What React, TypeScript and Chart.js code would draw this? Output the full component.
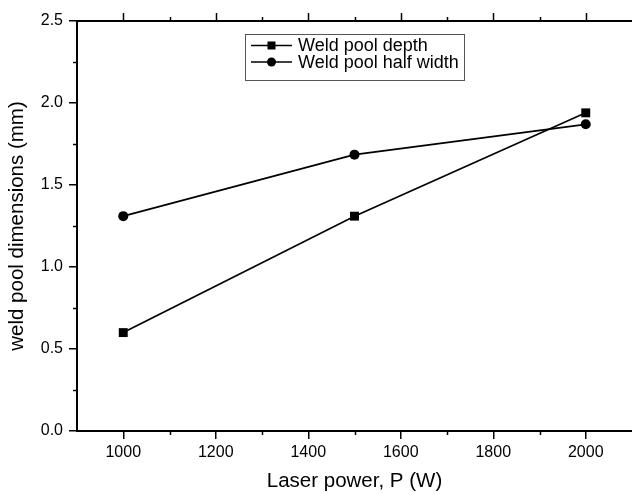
import React, { useEffect, useRef } from "react";
import { Chart, registerables } from "chart.js";

Chart.register(...registerables);

const laserPower = [1000, 1500, 2000];
const poolDepth = [0.6, 1.31, 1.94];
const poolHalfWidth = [1.31, 1.685, 1.87];
const xTickValues = [1000, 1200, 1400, 1600, 1800, 2000];
const xMinorValues = [900, 1100, 1300, 1500, 1700, 1900, 2100];
const yTickValues = [0, 0.5, 1.0, 1.5, 2.0, 2.5];
const yMinorValues = [0.25, 0.75, 1.25, 1.75, 2.25];
const seriesNames = ["Weld pool depth", "Weld pool half width"];

const FONT = "'Liberation Sans', Arial, sans-serif";

const framePlugin = {
  id: "frame",
  afterDraw(chart: any) {
    const { ctx, chartArea } = chart;
    const xs = chart.scales.x;
    const ys = chart.scales.y;
    const { left, right, top, bottom } = chartArea;
    ctx.save();
    ctx.strokeStyle = "#000";
    // top axis line
    ctx.lineWidth = 2;
    ctx.beginPath();
    ctx.moveTo(left - 1, top);
    ctx.lineTo(right + 2, top);
    ctx.stroke();
    ctx.lineWidth = 1.5;
    // top major ticks
    for (const v of xTickValues) {
      const px = Math.round(xs.getPixelForValue(v)) + 0.5;
      ctx.beginPath();
      ctx.moveTo(px, top);
      ctx.lineTo(px, top - 8);
      ctx.stroke();
    }
    // minor x ticks (top and bottom)
    for (const v of xMinorValues) {
      const px = Math.round(xs.getPixelForValue(v)) + 0.5;
      if (px <= left + 1 || px >= right) continue;
      ctx.beginPath();
      ctx.moveTo(px, top);
      ctx.lineTo(px, top - 4);
      ctx.moveTo(px, bottom);
      ctx.lineTo(px, bottom + 4);
      ctx.stroke();
    }
    // minor y ticks
    for (const v of yMinorValues) {
      const py = Math.round(ys.getPixelForValue(v)) + 0.5;
      ctx.beginPath();
      ctx.moveTo(left, py);
      ctx.lineTo(left - 4, py);
      ctx.stroke();
    }

    // legend
    const bx = 245, by = 34, bw = 219, bh = 46;
    ctx.lineWidth = 1;
    ctx.strokeStyle = "#555";
    ctx.strokeRect(bx + 0.5, by + 0.5, bw, bh);
    const rows = [
      { y: 45.5, style: "rect" },
      { y: 62, style: "circle" },
    ];
    ctx.font = `18px ${FONT}`;
    ctx.textBaseline = "middle";
    ctx.textAlign = "left";
    rows.forEach((r, i) => {
      ctx.strokeStyle = "#000";
      ctx.fillStyle = "#000";
      ctx.lineWidth = 1.5;
      ctx.beginPath();
      ctx.moveTo(251, r.y);
      ctx.lineTo(292, r.y);
      ctx.stroke();
      if (r.style === "rect") {
        ctx.fillRect(271.5 - 4, r.y - 4, 8, 8);
      } else {
        ctx.beginPath();
        ctx.arc(271.5, r.y, 4.5, 0, Math.PI * 2);
        ctx.fill();
      }
      ctx.fillStyle = "#000";
      ctx.fillText(seriesNames[i], 298, r.y + 1);
    });
    ctx.restore();
  },
};

export default function App() {
  const ref = useRef<HTMLCanvasElement | null>(null);

  useEffect(() => {
    document.body.style.margin = "0";
    const canvas = ref.current;
    if (!canvas) return;
    const chart = new Chart(canvas, {
      type: "line",
      data: {
        datasets: [
          {
            label: seriesNames[0],
            data: laserPower.map((x, i) => ({ x, y: poolDepth[i] })),
            borderColor: "#000",
            backgroundColor: "#000",
            borderWidth: 1.7,
            pointStyle: "rect",
            pointRadius: 6.3,
            pointBorderWidth: 0,
            tension: 0,
          },
          {
            label: seriesNames[1],
            data: laserPower.map((x, i) => ({ x, y: poolHalfWidth[i] })),
            borderColor: "#000",
            backgroundColor: "#000",
            borderWidth: 1.7,
            pointStyle: "circle",
            pointRadius: 5,
            pointBorderWidth: 0,
            tension: 0,
          },
        ],
      },
      options: {
        animation: false,
        responsive: false,
        maintainAspectRatio: false,
        layout: { autoPadding: false, padding: { top: 21, right: 0, left: 0, bottom: 0 } },
        plugins: {
          legend: { display: false },
          tooltip: { enabled: false },
        },
        scales: {
          x: {
            type: "linear",
            min: 900,
            max: 2100,
            afterBuildTicks: (s: any) => {
              s.ticks = xTickValues.map((v) => ({ value: v }));
            },
            afterFit: (s: any) => {
              s.height = 63;
              s.paddingLeft = 0;
              s.paddingRight = 0;
            },
            grid: {
              display: true,
              drawOnChartArea: false,
              drawTicks: true,
              tickLength: 8,
              color: "#000",
              lineWidth: 1.5,
            },
            border: { display: true, color: "#000", width: 2 },
            ticks: {
              color: "#000",
              font: { family: FONT, size: 16 },
              padding: 4,
              maxRotation: 0,
              callback: (v: any) => String(v),
            },
            title: {
              display: true,
              text: "Laser power, P (W)",
              color: "#000",
              font: { family: FONT, size: 20.5 },
              padding: { top: 0, bottom: 0 },
            },
          },
          y: {
            type: "linear",
            min: 0,
            max: 2.5,
            afterBuildTicks: (s: any) => {
              s.ticks = yTickValues.map((v) => ({ value: v }));
            },
            afterFit: (s: any) => {
              s.width = 77;
              s.paddingTop = 0;
              s.paddingBottom = 0;
            },
            grid: {
              display: true,
              drawOnChartArea: false,
              drawTicks: true,
              tickLength: 8,
              color: "#000",
              lineWidth: 1.5,
            },
            border: { display: true, color: "#000", width: 2 },
            ticks: {
              color: "#000",
              font: { family: FONT, size: 16 },
              padding: 6,
              callback: (v: any) => Number(v).toFixed(1),
            },
            title: {
              display: true,
              text: "weld pool dimensions (mm)",
              color: "#000",
              font: { family: FONT, size: 20.5 },
              padding: { top: 5, bottom: 0 },
            },
          },
        },
      },
      plugins: [framePlugin],
    });
    return () => chart.destroy();
  }, []);

  return (
    <div style={{ width: 632, height: 494, background: "#fff" }}>
      <canvas ref={ref} width={632} height={494} style={{ display: "block" }} />
    </div>
  );
}
